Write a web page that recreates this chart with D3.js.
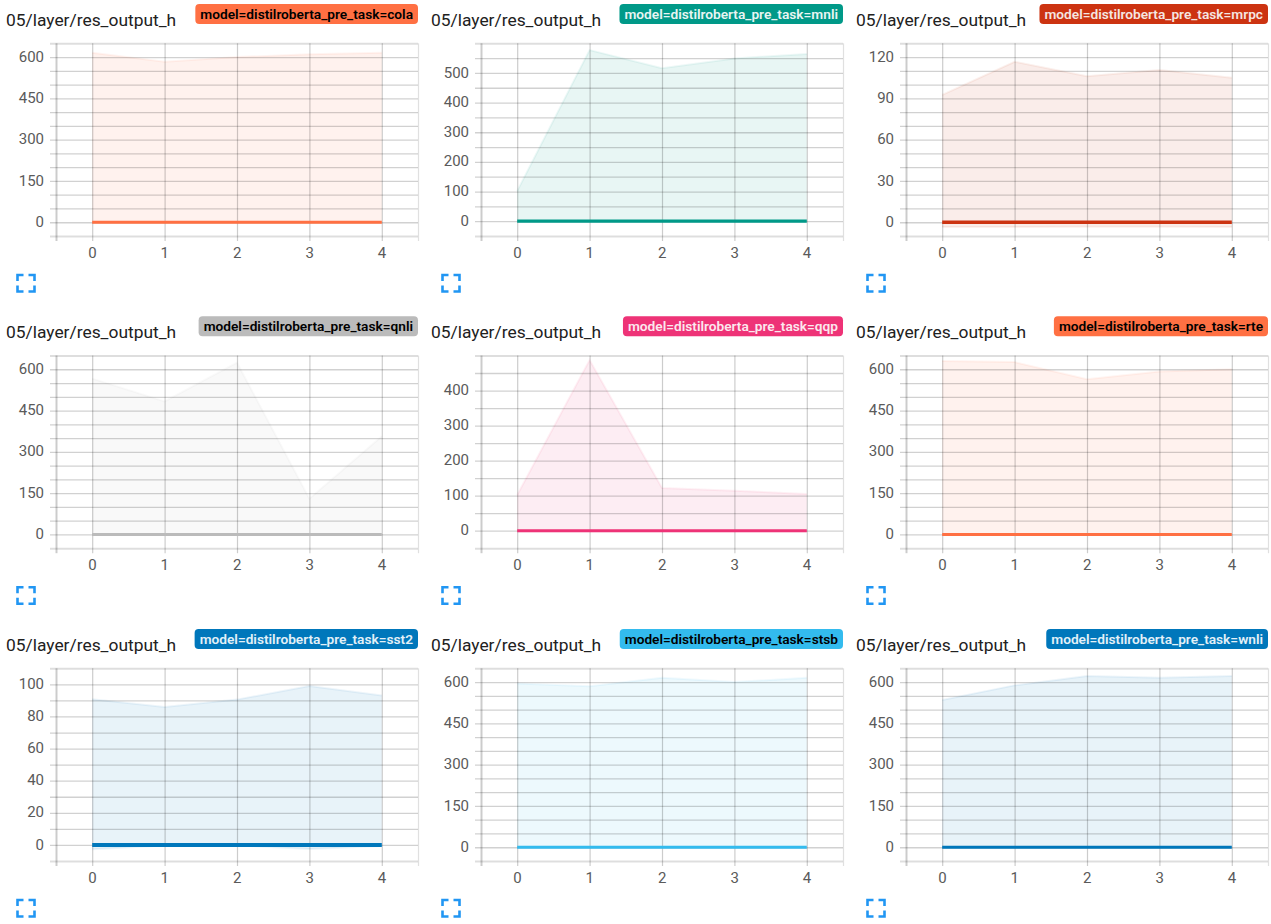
<!DOCTYPE html>
<html>
<head>
<meta charset="utf-8">
<script src="https://cdn.jsdelivr.net/npm/d3@7/dist/d3.min.js"></script>
<style>
html,body{margin:0;padding:0;background:#fff;overflow:hidden}
svg{display:block;font-family:Roboto,sans-serif}
.tick text{font-family:Roboto,sans-serif;font-size:15px;fill:#5a5a5a}
</style>
</head>
<body>
<svg id="chart" width="1271" height="924"></svg>
<script>
const titleText = "05/layer/res_output_h";
const tagPrefix = "model=distilroberta_pre_task=";
const tasks = ["cola","mnli","mrpc","qnli","qqp","rte","sst2","stsb","wnli"];
const colors = ["#ff7043","#009988","#cc3311","#bbbbbb","#ee3377","#ff7043","#0077bb","#33bbee","#0077bb"];
const tagText = ["#000","#e8f5f3","#f5e6e1","#000","#fce8ef","#000","#e3f1f8","#000","#e3f1f8"];
const steps = [0,1,2,3,4];
const upper = [
  [616,583,600,610,616],
  [102,577,516,549,564],
  [92.5,116.6,106,110.6,105],
  [566,483,624,130,357],
  [102,487,122,114,105],
  [630,626,564,592,600],
  [90.7,85.9,90.5,99,93],
  [595,585,616,600,616],
  [535,588,622,616,622]
];
const lower = [
  [-2,-2,-2,-2,-2],
  [-2,-2,-2,-2,-2],
  [-3.5,-3.5,-3.2,-3.2,-3.5],
  [-2,-2,-2,-2,-2],
  [-2,-2,-2,-2,-2],
  [-2,-2,-2,-2,-2],
  [-2.7,-0.3,-0.3,-2.5,-0.6],
  [-2,-2,-2,-2,-2],
  [-2,-2,-2,-2,-2]
];
const median = [
  [0,0,0,0,0],[0,0,0,0,0],[0,0,0,0,0],
  [0,0,0,0,0],[0,0,0,0,0],[0,0,0,0,0],
  [0,0,0,0,0],[0,0,0,0,0],[0,0,0,0,0]
];
const yDomains = [[-50,650],[-50,600],[-10,130],[-50,650],[-50,500],[-50,650],[-10,110],[-50,650],[-50,650]];
const yMajor = [
  [0,150,300,450,600],[0,100,200,300,400,500],[0,30,60,90,120],
  [0,150,300,450,600],[0,100,200,300,400],[0,150,300,450,600],
  [0,20,40,60,80,100],[0,150,300,450,600],[0,150,300,450,600]
];
const yGridStep = [50,50,10,50,50,50,10,50,50];
const xGrid = [-0.5,0,1,2,3,4,4.5];
const xLabels = [0,1,2,3,4];
const lineWidths = [3,3.2,3.6,3,3,3,4,3,3];

const colX = [0,425,850], rowY = [0,312.2,625];
const svg = d3.select("#chart");

tasks.forEach((task,i)=>{
  const ox = colX[i%3], oy = rowY[Math.floor(i/3)];
  const g = svg.append("g").attr("transform",`translate(${ox},${oy})`);
  const L=56,R=418,T=43.3,B=236;
  const x = d3.scaleLinear().domain([-0.5,4.5]).range([L,R]);
  const y = d3.scaleLinear().domain(yDomains[i]).range([B,T]);

  // title
  g.append("text").attr("x",6).attr("y",25.5).attr("font-size",17.4).attr("fill","#212121").text(titleText);

  // tag
  const label = g.append("text").attr("y",18.8).attr("font-size",13.7).attr("font-weight",600)
    .attr("fill",tagText[i]).text(tagPrefix+task);
  const tw = label.node().getComputedTextLength();
  label.attr("x",R-5-tw);
  g.insert("rect","text:last-of-type").attr("x",R-10-tw).attr("y",4).attr("width",tw+10).attr("height",20)
    .attr("rx",4).attr("fill",colors[i]);

  // band sits beneath the grid
  const idx = steps.map((s,k)=>k);
  g.append("path").datum(idx)
    .attr("d",d3.area().x(k=>x(steps[k])).y0(k=>y(lower[i][k])).y1(k=>y(upper[i][k])))
    .attr("fill",colors[i]).attr("fill-opacity",0.09);
  [upper[i],lower[i]].forEach(arr=>{
    g.append("path").datum(idx)
      .attr("d",d3.line().x(k=>x(steps[k])).y(k=>y(arr[k])))
      .attr("fill","none").attr("stroke",colors[i]).attr("stroke-opacity",0.07).attr("stroke-width",2);
  });

  // horizontal grid
  const gridVals = d3.range(yDomains[i][0],yDomains[i][1]+1,yGridStep[i]);
  const gy = g.append("g").attr("transform",`translate(${L-6},0)`)
    .call(d3.axisLeft(y).tickValues(gridVals).tickSizeInner(-(R-L+6)).tickSizeOuter(0).tickFormat(""));
  gy.select(".domain").remove();
  gy.selectAll(".tick line").attr("stroke","#000")
    .attr("stroke-opacity",d=>(d===yDomains[i][0]||d===yDomains[i][1])?0.13:0.18)
    .attr("stroke-width",d=>(d===yDomains[i][0]||d===yDomains[i][1])?2:1.3);

  // vertical grid
  const gx = g.append("g").attr("transform",`translate(0,${B+5})`)
    .call(d3.axisBottom(x).tickValues(xGrid).tickSizeInner(-(B-T+5)).tickSizeOuter(0).tickFormat(""));
  gx.select(".domain").remove();
  gx.selectAll(".tick line").attr("stroke","#000")
    .attr("stroke-opacity",d=>d===-0.5?0.2:d===4.5?0.12:0.2)
    .attr("stroke-width",d=>d===-0.5?2:1.2);

  // median
  g.append("path").datum(idx)
    .attr("d",d3.line().x(k=>x(steps[k])).y(k=>y(median[i][k])))
    .attr("fill","none").attr("stroke",colors[i]).attr("stroke-width",lineWidths[i]);

  // labels
  const ly = g.append("g").attr("transform",`translate(${L},-0.7)`)
    .call(d3.axisLeft(y).tickValues(yMajor[i]).tickSize(0).tickPadding(12));
  ly.select(".domain").remove();
  const lx = g.append("g").attr("transform",`translate(-0.3,${B+0.4})`)
    .call(d3.axisBottom(x).tickValues(xLabels).tickSize(0).tickPadding(11).tickFormat(d3.format("d")));
  lx.select(".domain").remove();

  // expand icon
  const s=6,a=17.5,b=34.5,c=275,e=291.5;
  g.append("path")
    .attr("d",`M${a},${c+s}V${c}H${a+s} M${b-s},${c}H${b}V${c+s} M${a},${e-s}V${e}H${a+s} M${b-s},${e}H${b}V${e-s}`)
    .attr("fill","none").attr("stroke","#2196f3").attr("stroke-width",2.6);
});
</script>
</body>
</html>
